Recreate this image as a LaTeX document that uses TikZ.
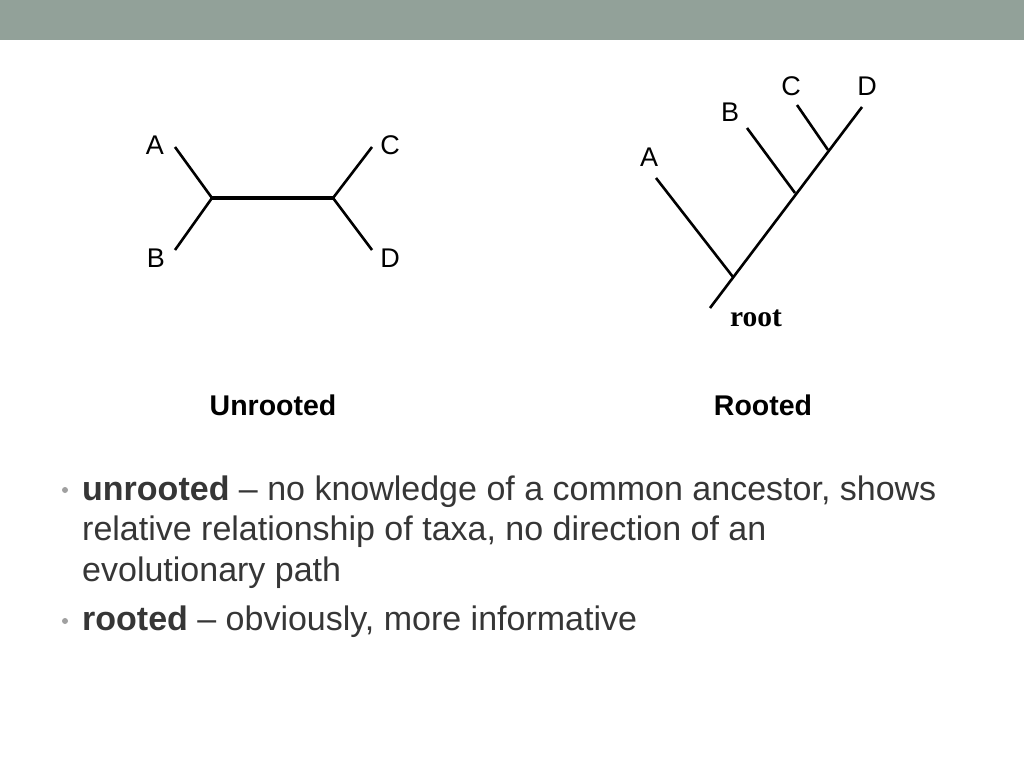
\documentclass[tikz,border=0pt]{standalone}
\usepackage{fontspec}
\setmainfont{Liberation Sans}
\newfontfamily\serifbold{Liberation Serif}
\definecolor{headbar}{HTML}{92A199}
\definecolor{bodytext}{HTML}{363636}
\definecolor{bulletgray}{HTML}{A0A0A0}
\begin{document}
\begin{tikzpicture}[x=1pt,y=-1pt,
  branch/.style={line width=2.6pt, line cap=butt},
  taxon/.style={font=\fontsize{27}{27}\selectfont, inner sep=0pt, anchor=center},
  caption/.style={font=\fontsize{28.5}{28.5}\selectfont\bfseries, inner sep=0pt, anchor=base},
  bodyline/.style={font=\fontsize{34}{34}\selectfont, text=bodytext, inner sep=0pt, anchor=base west},
  bulletdot/.style={circle, fill=bulletgray, inner sep=0pt, minimum size=6pt}
]
\useasboundingbox (0,0) rectangle (1024,768);
\fill[white] (0,0) rectangle (1024,768);
\fill[headbar] (0,0) rectangle (1024,40);

% Unrooted tree
\coordinate (uL) at (212,198);
\coordinate (uR) at (333,198);
\coordinate (uA) at (175,147);
\coordinate (uB) at (175,250);
\coordinate (uC) at (372,147);
\coordinate (uD) at (372,250);
\draw[branch] (uA) -- (uL) -- (uB);
\draw[branch] (uC) -- (uR) -- (uD);
\draw[line width=3.2pt] (uL) -- (uR);
\node[taxon] (lA) at (155,145) {A};
\node[taxon] (lB) at (156,258) {B};
\node[taxon] (lC) at (390,145) {C};
\node[taxon] (lD) at (390,258) {D};

% Rooted tree
\coordinate (rRoot) at (710,308);
\coordinate (rJ1) at (733,277);
\coordinate (rJ2) at (795,193);
\coordinate (rJ3) at (828,150);
\coordinate (rA) at (656,178);
\coordinate (rB) at (747,128);
\coordinate (rC) at (797,105);
\coordinate (rD) at (862,107);
\draw[branch] (rRoot) -- (rD);
\draw[branch] (rA) -- (rJ1);
\draw[branch] (rB) -- (rJ2);
\draw[branch] (rC) -- (rJ3);
\node[taxon] (lrA) at (649,157) {A};
\node[taxon] (lrB) at (730,112) {B};
\node[taxon] (lrC) at (791,86) {C};
\node[taxon] (lrD) at (867,86) {D};
\node[font=\fontsize{29.5}{29.5}\selectfont\serifbold\bfseries, inner sep=0pt, anchor=base] (lroot) at (756,326) {root};

% Captions
\node[caption] (capU) at (273,415) {Unrooted};
\node[caption] (capR) at (763,415) {Rooted};

% Bullets
\node[bulletdot] (b1) at (65,490) {};
\node[bulletdot] (b2) at (65,621) {};
\node[bodyline] (t1) at (82,500) {\textbf{unrooted} -- no knowledge of a common ancestor, shows};
\node[bodyline] (t2) at (82,540) {relative relationship of taxa, no direction of an};
\node[bodyline] (t3) at (82,581) {evolutionary path};
\node[bodyline] (t4) at (82,630) {\textbf{rooted} -- obviously, more informative};
\end{tikzpicture}
\end{document}
